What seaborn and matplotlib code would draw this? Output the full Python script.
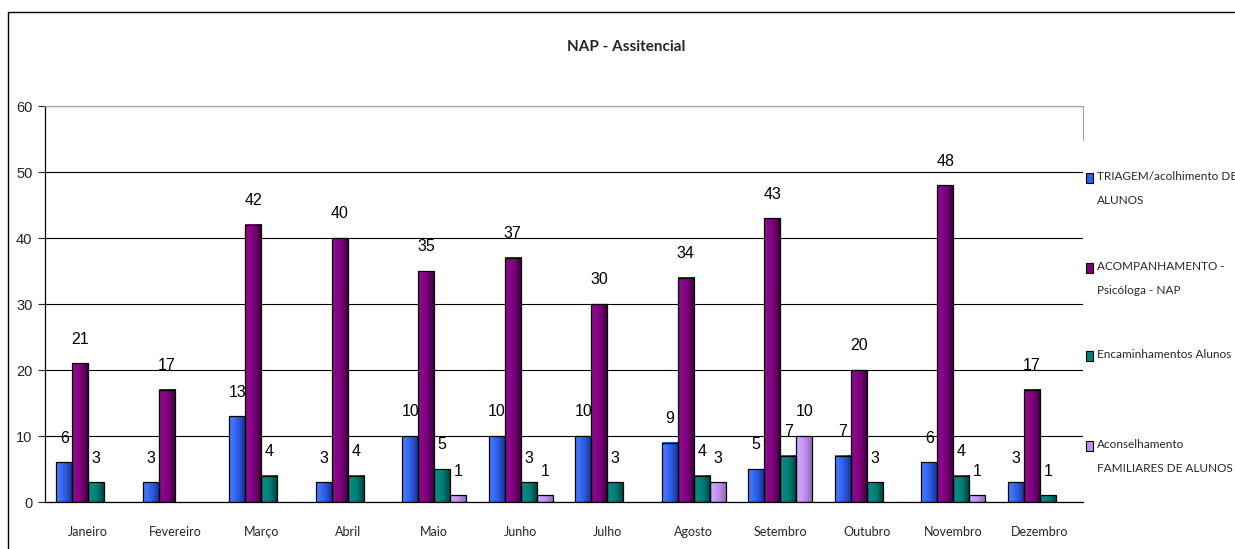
import numpy as np
import pandas as pd
import matplotlib.pyplot as plt
import seaborn as sns
from matplotlib.colors import LinearSegmentedColormap
from matplotlib.lines import Line2D
from matplotlib.patches import Rectangle

# ── Data ─────────────────────────────────────────────────────────
meses = ["Janeiro", "Fevereiro", "Março", "Abril", "Maio", "Junho",
         "Julho", "Agosto", "Setembro", "Outubro", "Novembro", "Dezembro"]
series = ["TRIAGEM/acolhimento DE ALUNOS",
          "ACOMPANHAMENTO - Psicóloga - NAP",
          "Encaminhamentos Alunos",
          "Aconselhamento FAMILIARES DE ALUNOS"]
legend_labels = ["TRIAGEM/acolhimento DE\nALUNOS",
                 "ACOMPANHAMENTO -\nPsicóloga - NAP",
                 "Encaminhamentos Alunos",
                 "Aconselhamento\nFAMILIARES DE ALUNOS"]
triagem        = [6, 3, 13, 3, 10, 10, 10, 9, 5, 7, 6, 3]
acompanhamento = [21, 17, 42, 40, 35, 37, 30, 34, 43, 20, 48, 17]
encaminhamento = [3, 0, 4, 4, 5, 3, 3, 4, 7, 3, 4, 1]
aconselhamento = [0, 0, 0, 0, 1, 1, 0, 3, 10, 0, 1, 0]
y_ticks = [0, 10, 20, 30, 40, 50, 60]

# colours (base, light, dark) per series
BASE  = ["#2E5FEA", "#800080", "#008078", "#C090F0"]
LIGHT = ["#4C7DFF", "#8E0E8E", "#0C8C84", "#D4AEFF"]
DARK  = ["#17308C", "#380038", "#00403C", "#8A68B4"]

rows = []
for s, vals in zip(series, [triagem, acompanhamento, encaminhamento, aconselhamento]):
    for m, v in zip(meses, vals):
        if v > 0:
            rows.append({"mes": m, "serie": s, "valor": v})
df = pd.DataFrame(rows)

# ── Style ────────────────────────────────────────────────────────
sns.set_style("white")
FONT = ["Lato", "DejaVu Sans"]
NUM = ["Liberation Sans", "DejaVu Sans"]
plt.rcParams["font.family"] = FONT

fig = plt.figure(figsize=(12.35, 5.49), dpi=100)
fig.patch.set_facecolor("white")
L, R, B, T = 45 / 1235, 1083 / 1235, 47 / 549, 443 / 549
ax = fig.add_axes([L, B, R - L, T - B])

sns.barplot(data=df, x="mes", y="valor", hue="serie", order=meses,
            hue_order=series, palette=BASE, width=0.74, saturation=1,
            edgecolor="black", linewidth=0.9, legend=False, ax=ax)

# gradient fill like the Excel bars
grad = np.linspace(0, 1, 64).reshape(1, -1)
for i, cont in enumerate(ax.containers):
    cmap = LinearSegmentedColormap.from_list(f"g{i}", [LIGHT[i], BASE[i], DARK[i]])
    for p in cont.patches:
        x0, y0, w, h = p.get_x(), p.get_y(), p.get_width(), p.get_height()
        ax.imshow(grad, cmap=cmap, aspect="auto", zorder=2.5,
                  extent=[x0, x0 + w, y0, y0 + h], interpolation="bilinear")
        p.set_facecolor("none")
        p.set_zorder(3)
    ax.bar_label(cont, fmt="%g", padding=12, fontsize=11.5, color="black",
                 family=NUM)

ax.set_xlim(-0.5, 11.5)
ax.set_ylim(0, 60)
ax.set_yticks(y_ticks)
ax.set_xlabel("")
ax.set_ylabel("")
ax.grid(axis="y", color="black", linewidth=0.8)
ax.set_axisbelow(True)

ax.set_xticks(np.arange(-0.5, 12, 1), minor=True)
ax.tick_params(axis="x", which="major", length=0, pad=17, labelsize=9)
ax.tick_params(axis="x", which="minor", length=5, direction="out", width=0.8)
ax.tick_params(axis="y", length=5, direction="out", width=0.8, pad=4, labelsize=10.5,
               left=True)
for t in ax.get_yticklabels():
    t.set_family(NUM)

for side in ["left", "bottom"]:
    ax.spines[side].set_color("black")
    ax.spines[side].set_linewidth(0.9)
ax.spines["top"].set_color("#A0A0A0")
ax.spines["right"].set_color("#A0A0A0")
ax.spines["right"].set_bounds(54.8, 60)

# ── Title ────────────────────────────────────────────────────────
fig.text(626 / 1235, 1 - 47 / 549, "NAP - Assitencial", ha="center", va="center",
         fontsize=11, fontweight="bold")

# ── Legend (Excel style, marker on first line) ──────────────────
leg_y = [178, 268, 356, 446]
for i, (lab, yy) in enumerate(zip(legend_labels, leg_y)):
    fig.add_artist(Rectangle((1086 / 1235, 1 - (yy + 5) / 549), 7 / 1235, 10 / 549,
                             transform=fig.transFigure, facecolor=BASE[i],
                             edgecolor="black", linewidth=0.8))
    fig.text(1097 / 1235, 1 - (yy - 7) / 549, lab, ha="left", va="top",
             fontsize=8.5, linespacing=2.5)

# outer chart frame
fig.add_artist(Line2D([8 / 1235, 8 / 1235], [0, 1 - 12 / 549], color="black",
                      linewidth=1, transform=fig.transFigure))
fig.add_artist(Line2D([8 / 1235, 1], [1 - 12 / 549, 1 - 12 / 549], color="black",
                      linewidth=1, transform=fig.transFigure))

fig.savefig("out.png", dpi=100, facecolor="white")
